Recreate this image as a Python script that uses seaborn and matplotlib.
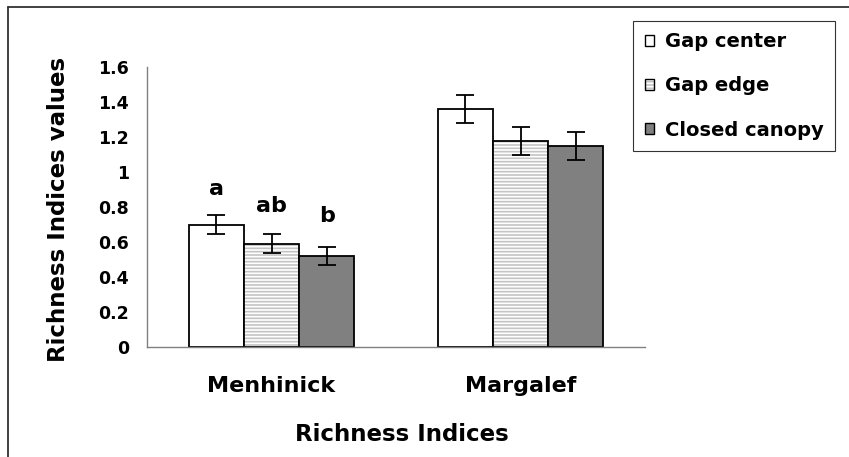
import matplotlib
matplotlib.use("Agg")
import matplotlib.pyplot as plt
import matplotlib.patches as mpatches
import seaborn as sns
import pandas as pd

# Richness index means and standard errors per canopy position
indices = ["Menhinick", "Margalef"]
positions = ["Gap center", "Gap edge", "Closed canopy"]
menhinick_mean = [0.70, 0.59, 0.52]
menhinick_se = [0.055, 0.053, 0.053]
margalef_mean = [1.36, 1.18, 1.15]
margalef_se = [0.08, 0.08, 0.08]
menhinick_letters = ["a", "ab", "b"]
y_ticks = [0, 0.2, 0.4, 0.6, 0.8, 1, 1.2, 1.4, 1.6]
y_tick_labels = ["0", "0.2", "0.4", "0.6", "0.8", "1", "1.2", "1.4", "1.6"]

# vertical offsets (points) of the letters above the error bar tops
letter_offsets = [14.5, 16.5, 17.5]

df = pd.DataFrame({
    "index": [indices[0]] * 3 + [indices[1]] * 3,
    "position": positions * 2,
    "value": menhinick_mean + margalef_mean,
    "se": menhinick_se + margalef_se,
})

sns.set_theme(style="white")
plt.rcParams["font.family"] = ["DejaVu Sans"]
plt.rcParams["font.weight"] = "bold"
plt.rcParams["text.color"] = "black"
plt.rcParams["axes.labelcolor"] = "black"
plt.rcParams["xtick.labelcolor"] = "black"
plt.rcParams["ytick.labelcolor"] = "black"
plt.rcParams["hatch.linewidth"] = 1.2

fills = {"Gap center": "white", "Gap edge": "white", "Closed canopy": "#808080"}
HATCH_GRAY = "#c4c4c4"


def stripe(patch):
    patch.set_hatch("-----")
    if hasattr(patch, "set_hatchcolor"):
        patch.set_hatchcolor(HATCH_GRAY)
    else:
        patch._hatch_color = matplotlib.colors.to_rgba(HATCH_GRAY)


fig = plt.figure(figsize=(8.49, 4.57), dpi=100)
ax = fig.add_axes([147 / 849, 1 - 347 / 457, (645 - 147) / 849, (347 - 67) / 457])

sns.barplot(data=df, x="index", y="value", hue="position", hue_order=positions,
            order=indices, palette=fills, width=0.664, edgecolor="black",
            linewidth=1.3, errorbar=None, ax=ax, legend=False, zorder=2)

bars = [p for p in ax.patches if isinstance(p, mpatches.Rectangle) and p.get_height() > 0]
bars = sorted(bars, key=lambda p: p.get_x())

# rows in the same left-to-right order as the bars
rows = []
for idx in indices:
    for pos in positions:
        rows.append(df[(df["index"] == idx) & (df["position"] == pos)].iloc[0])

for bar, row in zip(bars, rows):
    cx = bar.get_x() + bar.get_width() / 2
    if row["position"] == "Gap edge":
        stripe(bar)
    ax.errorbar(cx, row["value"], yerr=row["se"], color="black", capsize=6.5,
                elinewidth=1.3, capthick=1.3, zorder=3)

# significance letters above the Menhinick bars
for bar, row, letter, off in zip(bars[:3], rows[:3], menhinick_letters, letter_offsets):
    cx = bar.get_x() + bar.get_width() / 2
    ax.annotate(letter, (cx, row["value"] + row["se"]), xytext=(0, off),
                textcoords="offset points", ha="center", va="baseline",
                fontsize=16, fontweight="bold", color="black")

ax.set_ylim(0, 1.6)
ax.set_xlim(-0.5, 1.5)
ax.set_yticks(y_ticks)
ax.set_yticklabels(y_tick_labels, fontsize=12.5, fontweight="bold")
ax.set_xticks([0, 1])
ax.set_xticklabels(indices, fontsize=16, fontweight="bold")
ax.set_xticks([-0.5, 0.5, 1.5], minor=True)
ax.tick_params(axis="x", which="major", length=0, pad=21, labelcolor="black")
ax.tick_params(axis="x", which="minor", length=6, width=1, color="#666666", direction="out")
ax.tick_params(axis="y", length=5, width=1, color="#666666", direction="out", pad=8,
               labelcolor="black")

for side in ["top", "right"]:
    ax.spines[side].set_visible(False)
for side in ["left", "bottom"]:
    ax.spines[side].set_color("#808080")
    ax.spines[side].set_linewidth(1.0)

ax.set_ylabel("Richness Indices values", fontsize=16.5, fontweight="bold", color="black")
ax.set_xlabel("Richness Indices", fontsize=16.5, fontweight="bold", color="black")
ax.yaxis.set_label_coords(-0.155, 0.49)
ax.xaxis.set_label_coords(0.511, -0.27)

# legend with small square keys
handles = []
for pos in positions:
    h = mpatches.Patch(facecolor=fills[pos], edgecolor="black", linewidth=1.0, label=pos)
    if pos == "Gap edge":
        stripe(h)
    handles.append(h)
leg = fig.legend(handles=handles, loc="upper left", bbox_to_anchor=(633 / 849, 1 - 20.5 / 457),
                 frameon=True, fancybox=False, edgecolor="black",
                 prop={"weight": "bold", "size": 14}, handlelength=0.48, handleheight=0.48,
                 handletextpad=0.55, labelspacing=1.3, borderpad=0.6, borderaxespad=0)
leg.get_frame().set_linewidth(0.8)
for t in leg.get_texts():
    t.set_color("black")

# outer frame lines along the top and left edges
fig.add_artist(plt.Line2D([8 / 849, 1], [1 - 7 / 457, 1 - 7 / 457], color="#333333", lw=1.3,
                          transform=fig.transFigure))
fig.add_artist(plt.Line2D([8 / 849, 8 / 849], [0, 1 - 7 / 457], color="#333333", lw=1.3,
                          transform=fig.transFigure))

fig.savefig("out.png", dpi=100)
